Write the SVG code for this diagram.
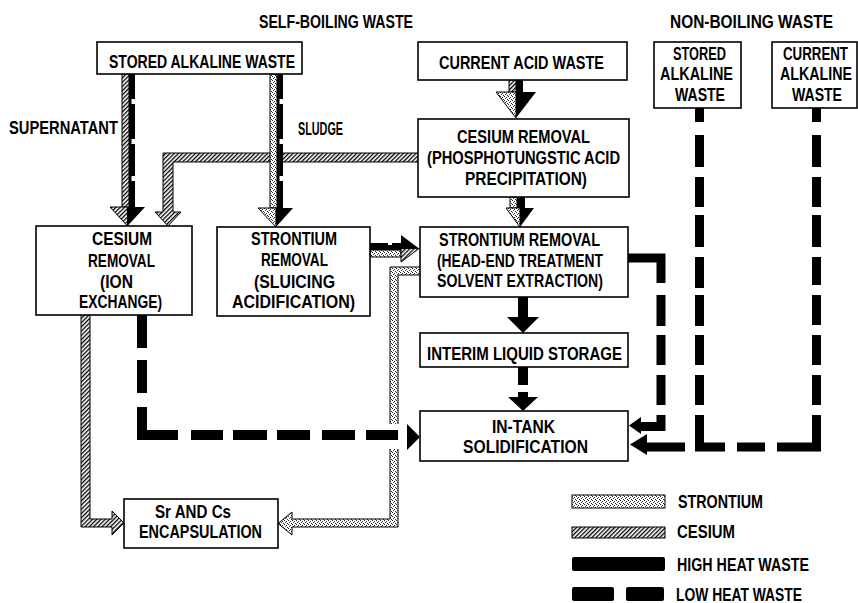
<svg xmlns="http://www.w3.org/2000/svg" width="858" height="603" viewBox="0 0 858 603">
<defs>
<pattern id="hatch" width="3" height="3" patternUnits="userSpaceOnUse" patternTransform="rotate(45)">
<rect width="3" height="3" fill="#fff"/><rect width="1.3" height="3" fill="#000"/>
</pattern>
<pattern id="stip" width="4" height="4" patternUnits="userSpaceOnUse">
<rect width="4" height="4" fill="#fff"/>
<rect x="0" y="0" width="1" height="1" fill="#222"/>
<rect x="2" y="1" width="1" height="1" fill="#222"/>
<rect x="1" y="2" width="1" height="1" fill="#444"/>
<rect x="3" y="3" width="1" height="1" fill="#222"/>
</pattern>
</defs>
<style>
.box{fill:#fff;stroke:#000;stroke-width:1.6}
.t{font-family:"Liberation Sans",Arial,sans-serif;font-size:17.5px;font-weight:bold;fill:#000}
.hat{fill:url(#hatch);stroke:#000;stroke-width:1}
.stp{fill:url(#stip);stroke:#000;stroke-width:1}
.blk{fill:#000}
.wht{fill:#fff}
.dsh{fill:none;stroke:#000;stroke-width:10;stroke-linejoin:miter;stroke-linecap:butt}
.dsh9{fill:none;stroke:#000;stroke-width:9;stroke-linejoin:miter;stroke-linecap:butt}
</style>
<rect width="858" height="603" fill="#fff"/>

<g id="connectors">
  <!-- supernatant: cesium + high heat -->
  <g id="c-supernatant">
    <rect class="hat" x="122" y="74" width="7" height="133"/>
    <rect class="blk" x="129" y="74" width="6" height="133"/>
    <rect class="wht" x="131.5" y="99" width="4" height="5"/>
    <rect class="wht" x="131.5" y="139" width="4" height="5"/>
    <rect class="wht" x="131.5" y="176" width="4" height="5"/>
    <path class="hat" d="M110,207 H127.5 V226 Z"/>
    <path class="blk" d="M127.5,207 H145 L127.5,226 Z"/>
  </g>
  <!-- cesium from phosphotungstic to ion exchange -->
  <path id="c-cs-phospho" class="hat" d="M418,153 H163 V212 H155 L168,226 L181,212 H173 V162 H418"/>
  <!-- sludge: strontium + high heat -->
  <g id="c-sludge">
    <rect class="stp" x="270" y="74" width="7" height="134"/>
    <rect class="blk" x="277" y="74" width="6" height="134"/>
    <rect class="wht" x="279.5" y="99" width="4" height="5"/>
    <rect class="wht" x="279.5" y="139" width="4" height="5"/>
    <rect class="wht" x="279.5" y="176" width="4" height="5"/>
    <path class="stp" d="M258,208 H276 V227 Z"/>
    <path class="blk" d="M276,208 H293 L276,227 Z"/>
  </g>
  <!-- current acid waste to cesium removal -->
  <g id="c-acid">
    <rect class="hat" x="509" y="80" width="7" height="12"/>
    <rect class="blk" x="516" y="80" width="7" height="12"/>
    <path class="stp" d="M496,92 H516 V118 Z"/>
    <path class="blk" d="M516,92 H536 L516,118 Z"/>
  </g>
  <!-- cesium removal to strontium removal -->
  <g id="c-phospho-sr">
    <rect class="stp" x="510" y="197" width="7" height="11"/>
    <rect class="blk" x="517" y="197" width="8" height="11"/>
    <path class="stp" d="M506,208 H520 V227 Z"/>
    <path class="blk" d="M520,208 H534 L520,227 Z"/>
  </g>
  <!-- sluicing to head-end -->
  <g id="c-sluice-headend">
    <rect class="blk" x="370" y="243" width="31" height="7"/>
    <rect class="wht" x="388" y="242" width="4" height="3"/>
    <rect class="stp" x="370" y="250" width="31" height="7"/>
    <path class="blk" d="M401,235 L419,248.5 H401 Z"/>
    <path class="hat" d="M401,248.5 H419 L401,262 Z"/>
  </g>
  <!-- strontium from head-end to encapsulation -->
  <path id="c-sr-encap" class="stp" d="M420,267 H390 V519 H292 V512 L278,523.5 L292,535 V527 H398 V275 H420"/>
  <!-- cesium from ion exchange to encapsulation -->
  <path id="c-cs-encap" class="hat" d="M81,315 V527 H112 V535 L124,523 L112,511 V519 H90 V315"/>
  <!-- low heat from ion exchange to in-tank -->
  <g id="c-ion-intank">
    <rect class="wht" x="388" y="424" width="12" height="25"/>
    <path class="dsh" d="M142,315 V348 M142,360 V393 M142,407 V435 H178 M191,435 H223 M233,435 H267 M277,435 H310 M322,435 H355 M366,435 H398"/>
    <path class="blk" d="M407,424 L420,437 L407,450 Z"/>
  </g>
  <!-- head-end to interim storage -->
  <g id="c-headend-interim">
    <rect class="blk" x="518" y="297" width="10" height="21"/>
    <path class="blk" d="M507,317 H539 L523,333 Z"/>
  </g>
  <!-- interim to in-tank -->
  <g id="c-interim-intank">
    <rect class="blk" x="518" y="367" width="10" height="18"/>
    <rect class="blk" x="518" y="392" width="10" height="6"/>
    <path class="blk" d="M508,397 H538 L523,411 Z"/>
  </g>
  <!-- head-end to in-tank (low heat) -->
  <g id="c-headend-intank">
    <path class="dsh9" d="M628,258 H661 V283 M661,295 V326 M661,335 V365 M661,375 V405 M661,415 V426.5 H640"/>
    <path class="blk" d="M641,417 L629,425.5 L641,434 Z"/>
  </g>
  <!-- non-boiling waste to in-tank -->
  <g id="c-nonboiling">
    <path class="dsh9" d="M699.5,108 V122 M699.5,135 V167 M699.5,177 V207 M699.5,215 V247 M699.5,257 V288 M699.5,295 V326 M699.5,335 V365 M699.5,375 V405 M699.5,415 V447 H725 M737,447 H765 M645,447 H685"/>
    <path class="dsh9" d="M816.5,108 V122 M816.5,135 V167 M816.5,177 V207 M816.5,215 V247 M816.5,257 V285 M816.5,295 V325 M816.5,335 V365 M816.5,375 V405 M816.5,415 V447 H777"/>
    <path class="blk" d="M647,434 L630,444.5 L647,455 Z"/>
  </g>
</g>

<g id="titles">
  <text class="t" x="259" y="28" textLength="154" lengthAdjust="spacingAndGlyphs">SELF-BOILING WASTE</text>
  <text class="t" x="670" y="28" textLength="163" lengthAdjust="spacingAndGlyphs">NON-BOILING WASTE</text>
  <text class="t" x="9" y="134" textLength="109" lengthAdjust="spacingAndGlyphs">SUPERNATANT</text>
  <text class="t" x="298" y="135" textLength="45" lengthAdjust="spacingAndGlyphs">SLUDGE</text>
</g>

<g id="n-stored-alkaline">
  <rect class="box" x="97" y="42" width="205" height="32"/>
  <text class="t" x="109" y="68" textLength="186" lengthAdjust="spacingAndGlyphs">STORED ALKALINE WASTE</text>
</g>
<g id="n-current-acid">
  <rect class="box" x="418" y="42" width="209" height="38"/>
  <text class="t" x="439" y="69" textLength="165" lengthAdjust="spacingAndGlyphs">CURRENT ACID WASTE</text>
</g>
<g id="n-stored-alkaline-nb">
  <rect class="box" x="654" y="42" width="87" height="66"/>
  <text class="t" x="673" y="60" textLength="53" lengthAdjust="spacingAndGlyphs">STORED</text>
  <text class="t" x="660" y="80" textLength="73" lengthAdjust="spacingAndGlyphs">ALKALINE</text>
  <text class="t" x="675" y="101" textLength="50" lengthAdjust="spacingAndGlyphs">WASTE</text>
</g>
<g id="n-current-alkaline">
  <rect class="box" x="772" y="42" width="85" height="66"/>
  <text class="t" x="783" y="60" textLength="65" lengthAdjust="spacingAndGlyphs">CURRENT</text>
  <text class="t" x="780" y="80" textLength="72" lengthAdjust="spacingAndGlyphs">ALKALINE</text>
  <text class="t" x="792" y="101" textLength="50" lengthAdjust="spacingAndGlyphs">WASTE</text>
</g>
<g id="n-cs-phospho">
  <rect class="box" x="418" y="119" width="211" height="78"/>
  <text class="t" x="457" y="143" textLength="133" lengthAdjust="spacingAndGlyphs">CESIUM REMOVAL</text>
  <text class="t" x="427" y="164" textLength="193" lengthAdjust="spacingAndGlyphs">(PHOSPHOTUNGSTIC ACID</text>
  <text class="t" x="465" y="185" textLength="122" lengthAdjust="spacingAndGlyphs">PRECIPITATION)</text>
</g>
<g id="n-cs-ion">
  <rect class="box" x="36" y="226" width="156" height="89"/>
  <text class="t" x="92" y="245" textLength="60" lengthAdjust="spacingAndGlyphs">CESIUM</text>
  <text class="t" x="88" y="267" textLength="67" lengthAdjust="spacingAndGlyphs">REMOVAL</text>
  <text class="t" x="100" y="288" textLength="33" lengthAdjust="spacingAndGlyphs">(ION</text>
  <text class="t" x="79" y="308" textLength="83" lengthAdjust="spacingAndGlyphs">EXCHANGE)</text>
</g>
<g id="n-sr-sluicing">
  <rect class="box" x="217" y="227" width="153" height="89"/>
  <text class="t" x="251" y="245" textLength="86" lengthAdjust="spacingAndGlyphs">STRONTIUM</text>
  <text class="t" x="261" y="266" textLength="67" lengthAdjust="spacingAndGlyphs">REMOVAL</text>
  <text class="t" x="254" y="288" textLength="81" lengthAdjust="spacingAndGlyphs">(SLUICING</text>
  <text class="t" x="232" y="308" textLength="123" lengthAdjust="spacingAndGlyphs">ACIDIFICATION)</text>
</g>
<g id="n-sr-headend">
  <rect class="box" x="420" y="227" width="208" height="70"/>
  <text class="t" x="439" y="246" textLength="161" lengthAdjust="spacingAndGlyphs">STRONTIUM REMOVAL</text>
  <text class="t" x="437" y="267" textLength="166" lengthAdjust="spacingAndGlyphs">(HEAD-END TREATMENT</text>
  <text class="t" x="437" y="287" textLength="166" lengthAdjust="spacingAndGlyphs">SOLVENT EXTRACTION)</text>
</g>
<g id="n-interim">
  <rect class="box" x="420" y="333" width="208" height="34"/>
  <text class="t" x="427" y="360" textLength="195" lengthAdjust="spacingAndGlyphs">INTERIM LIQUID STORAGE</text>
</g>
<g id="n-intank">
  <rect class="box" x="420" y="411" width="208" height="50"/>
  <text class="t" x="492" y="433" textLength="63" lengthAdjust="spacingAndGlyphs">IN-TANK</text>
  <text class="t" x="463" y="453" textLength="125" lengthAdjust="spacingAndGlyphs">SOLIDIFICATION</text>
</g>
<g id="n-encapsulation">
  <rect class="box" x="124" y="499" width="154" height="49"/>
  <text class="t" x="155" y="518" textLength="76" lengthAdjust="spacingAndGlyphs">Sr AND Cs</text>
  <text class="t" x="139" y="538" textLength="123" lengthAdjust="spacingAndGlyphs">ENCAPSULATION</text>
</g>

<g id="legend">
  <rect class="stp" x="572" y="495" width="93" height="13"/>
  <text class="t" x="678" y="508" textLength="85" lengthAdjust="spacingAndGlyphs">STRONTIUM</text>
  <rect class="hat" x="572" y="527" width="93" height="11"/>
  <text class="t" x="677" y="538" textLength="58" lengthAdjust="spacingAndGlyphs">CESIUM</text>
  <rect class="blk" x="572" y="557" width="93" height="14" rx="2"/>
  <text class="t" x="677" y="571" textLength="132" lengthAdjust="spacingAndGlyphs">HIGH HEAT WASTE</text>
  <rect class="blk" x="572" y="587" width="42" height="14" rx="2"/>
  <rect class="blk" x="626" y="587" width="38" height="14" rx="2"/>
  <text class="t" x="676" y="601" textLength="126" lengthAdjust="spacingAndGlyphs">LOW HEAT WASTE</text>
</g>
</svg>
